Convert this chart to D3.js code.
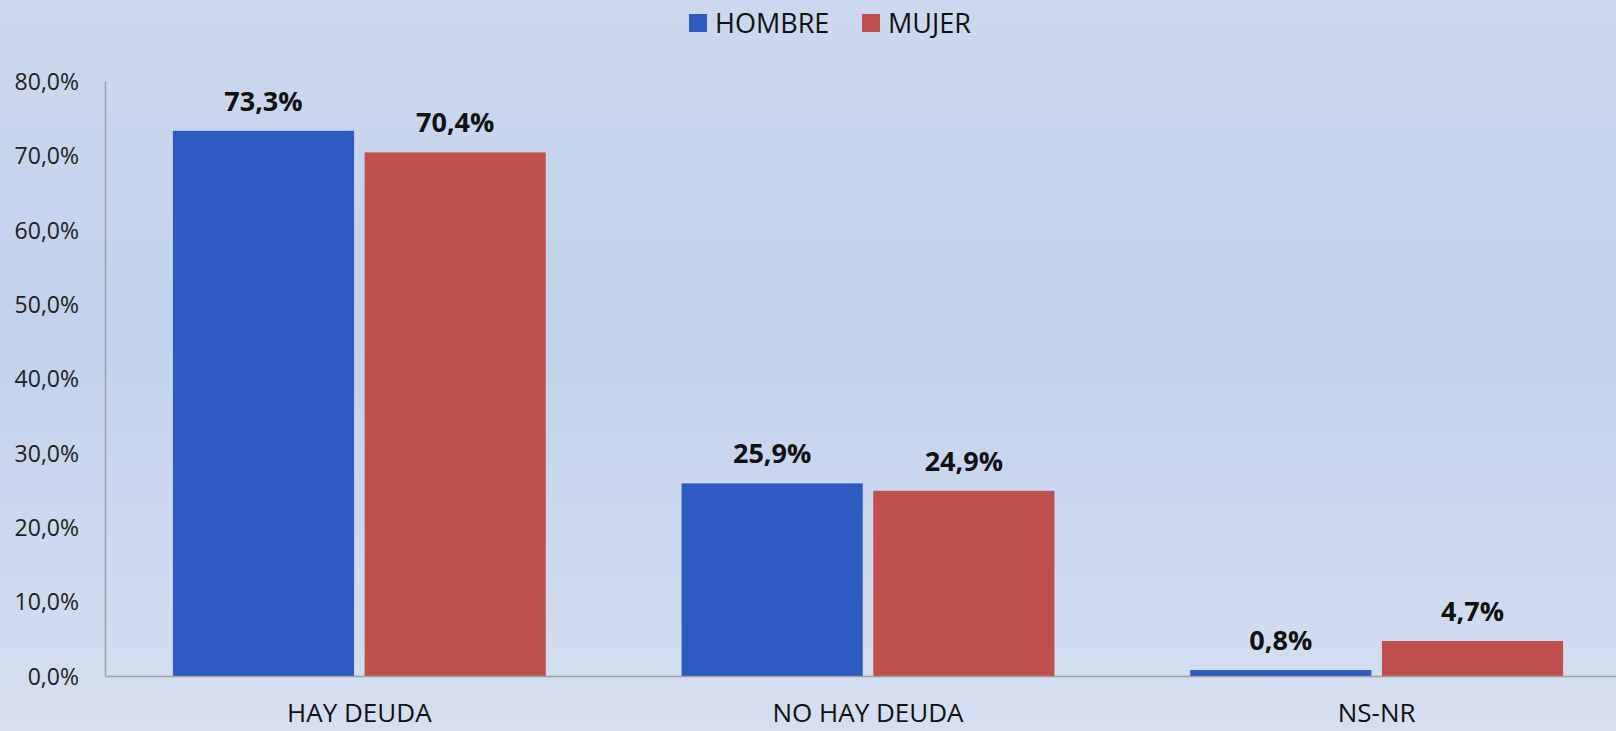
<!DOCTYPE html>
<html>
<head>
<meta charset="utf-8">
<script src="https://cdn.jsdelivr.net/npm/d3@7"></script>
<style>
  html, body { margin: 0; padding: 0; overflow: hidden; }
  svg { display: block; font-family: "Open Sans", "Noto Sans", sans-serif; }
</style>
</head>
<body>
<svg id="chart" width="1616" height="731"></svg>
<script>
// Respuestas por sexo
const categories = ["HAY DEUDA", "NO HAY DEUDA", "NS-NR"];
const seriesNames = ["HOMBRE", "MUJER"];
const hombre = [73.3, 25.9, 0.8];
const mujer = [70.4, 24.9, 4.7];
const yTicks = [0, 10, 20, 30, 40, 50, 60, 70, 80];
const colors = ["#2e5bc1", "#c0504e"];

const W = 1616, H = 731;
const margin = { left: 105, right: -15, top: 81, bottom: 55 };
const svg = d3.select("#chart");

// background gradient
const defs = svg.append("defs");
const grad = defs.append("linearGradient").attr("id", "bg").attr("x1", 0).attr("y1", 0).attr("x2", 0).attr("y2", 1);
grad.append("stop").attr("offset", "0%").attr("stop-color", "#ccd8ed");
grad.append("stop").attr("offset", "45%").attr("stop-color", "#c2d2ec");
grad.append("stop").attr("offset", "100%").attr("stop-color", "#d6dff1");
svg.append("rect").attr("width", W).attr("height", H).attr("fill", "url(#bg)");

const x0 = d3.scaleBand().domain(categories)
  .range([margin.left, W - margin.right])
  .paddingInner(0.267).paddingOuter(0.1335);
const x1 = d3.scaleBand().domain(seriesNames)
  .range([0, x0.bandwidth()]).paddingInner(0.055);
const y = d3.scaleLinear().domain([0, 80]).range([H - margin.bottom, margin.top]);

const rows = categories.map((c, i) => ({ cat: c, values: [hombre[i], mujer[i]] }));

const fmt = v => d3.format(".1f")(v).replace(".", ",") + "%";

// bars
const groups = svg.append("g").selectAll("g").data(rows).join("g")
  .attr("transform", d => `translate(${x0(d.cat)},0)`);
groups.selectAll("rect").data(d => d.values.map((v, k) => ({ name: seriesNames[k], v, k })))
  .join("rect")
  .attr("x", d => x1(d.name))
  .attr("y", d => y(d.v))
  .attr("width", x1.bandwidth())
  .attr("height", d => y(0) - y(d.v))
  .attr("fill", d => colors[d.k]);

// value labels
groups.selectAll("text").data(d => d.values.map((v, k) => ({ name: seriesNames[k], v, k })))
  .join("text")
  .attr("x", d => x1(d.name) + x1.bandwidth() / 2)
  .attr("y", d => y(d.v) - 20)
  .attr("text-anchor", "middle")
  .attr("font-size", 27).attr("font-weight", "bold").attr("fill", "#111")
  .text(d => fmt(d.v));

// y axis
const yAxis = svg.append("g").attr("transform", `translate(${margin.left},0)`)
  .call(d3.axisLeft(y).tickValues(yTicks).tickSize(0).tickPadding(26).tickFormat(fmt));
yAxis.select(".domain").attr("stroke", "#a0a0a0").attr("stroke-width", 1.5);
yAxis.selectAll("text").attr("font-size", 23).attr("fill", "#222").attr("font-family", "Open Sans")
  .attr("dy", "0.36em");

// x axis
const xAxis = svg.append("g").attr("transform", `translate(0,${y(0)})`)
  .call(d3.axisBottom(x0).tickSize(0).tickPadding(28));
xAxis.select(".domain").attr("stroke", "#a0a0a0").attr("stroke-width", 1.5);
xAxis.selectAll("text").attr("font-size", 26).attr("fill", "#111").attr("font-family", "Open Sans")
  .attr("dy", "0.71em");

// legend
const legend = svg.append("g");
const legendX = [689, 862];
seriesNames.forEach((name, k) => {
  legend.append("rect").attr("x", legendX[k]).attr("y", 14).attr("width", 18).attr("height", 18)
    .attr("fill", colors[k]);
  legend.append("text").attr("x", legendX[k] + 26).attr("y", 33)
    .attr("font-size", 27).attr("fill", "#111").text(name);
});
</script>
</body>
</html>
